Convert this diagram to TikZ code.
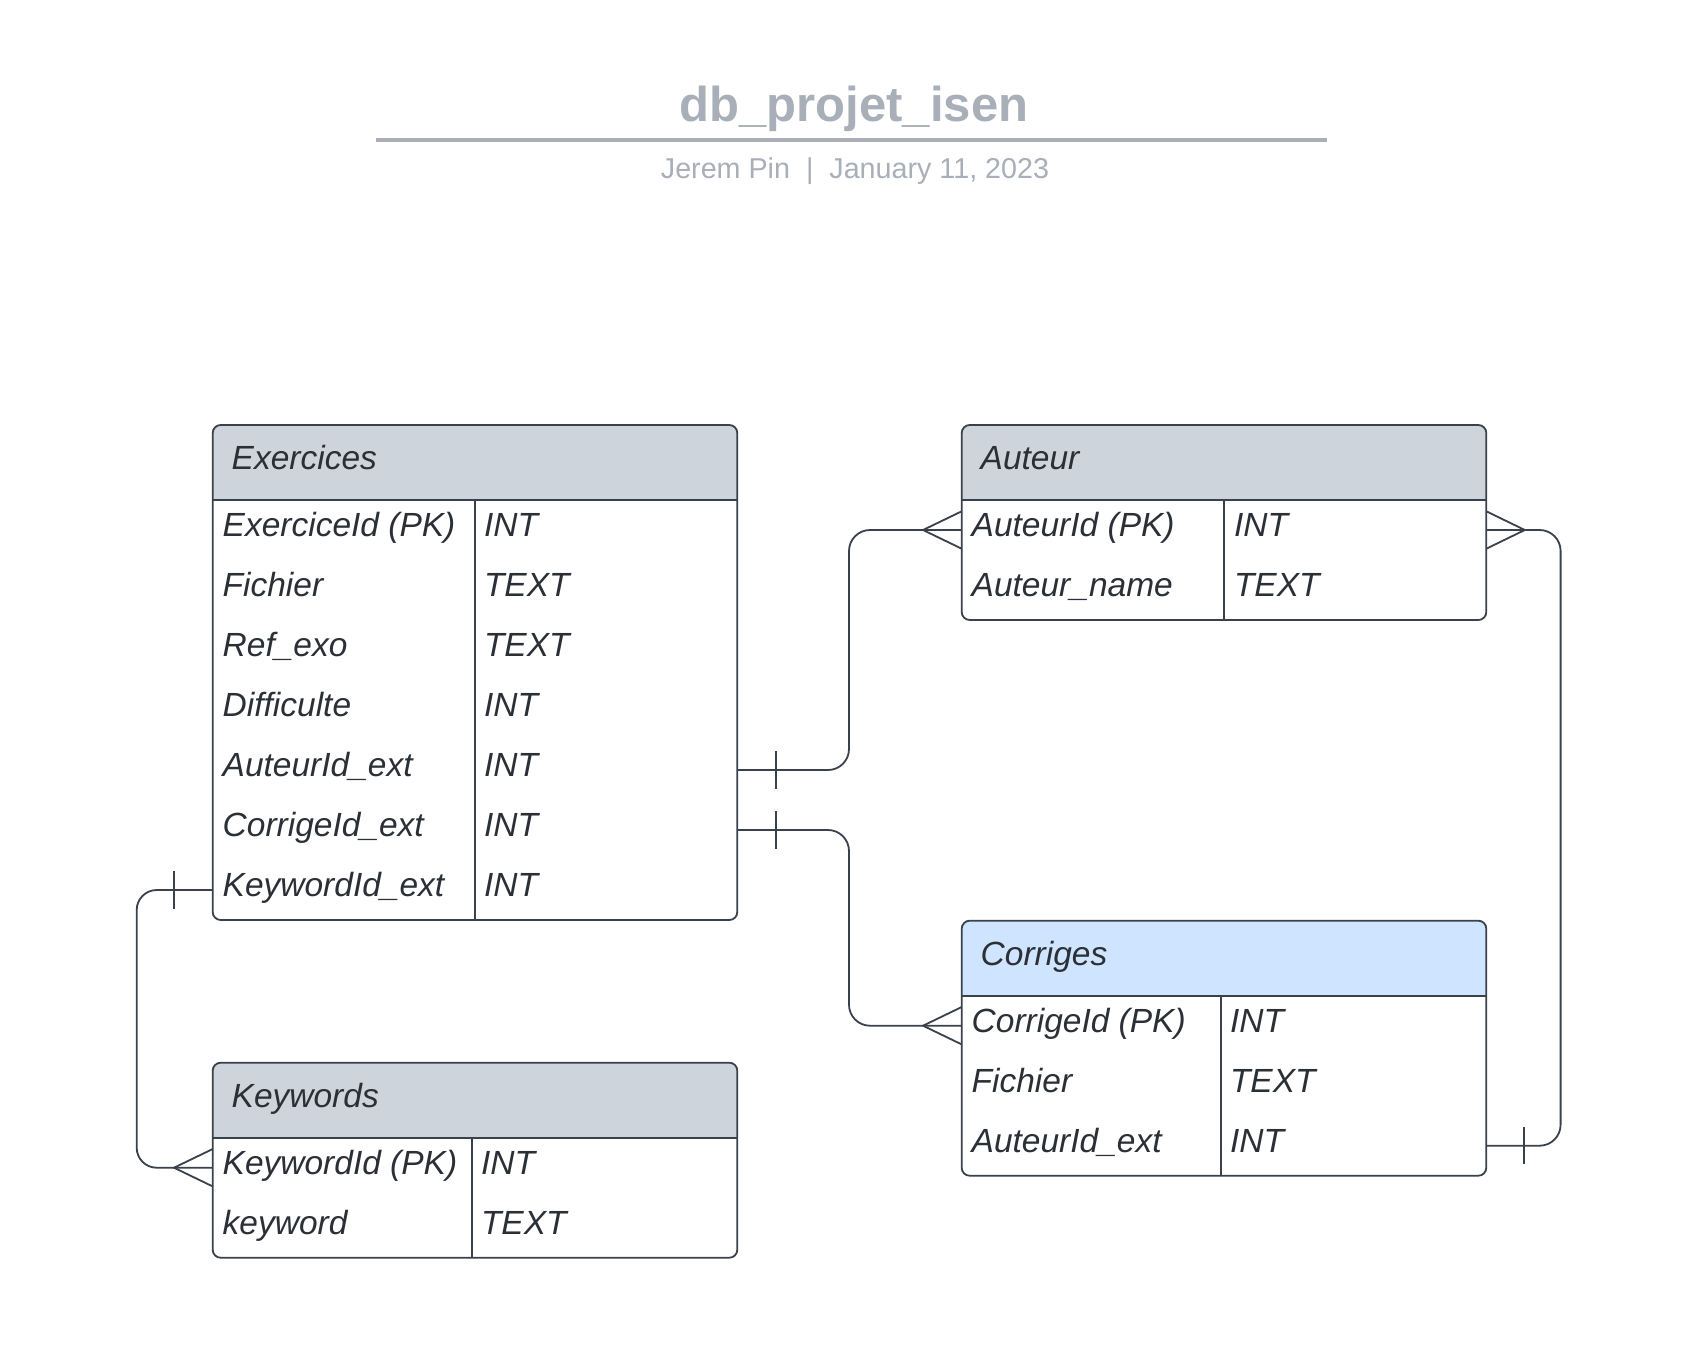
\documentclass[tikz,border=0pt]{standalone}
\usepackage{fontspec}
\setmainfont{Liberation Sans}
\definecolor{linecol}{HTML}{3A414A}
\definecolor{txtcol}{HTML}{2B2F36}
\definecolor{hdrgray}{HTML}{CED4DB}
\definecolor{hdrblue}{HTML}{CFE4FF}
\definecolor{titlegray}{HTML}{A9AFB8}
\newcommand{\dbtable}[7]{%
  \node[tbl, minimum height={75pt+#4*60pt}] (#1) at ({#2+262.3},{#3+37.5+#4*30}) {};
  \fill[white, rounded corners=8pt] (#1.south west) rectangle (#1.north east);
  \begin{scope}
    \clip[rounded corners=8pt] (#1.south west) rectangle (#1.north east);
    \fill[#6] (#1.north west) rectangle ([yshift=-75pt]#1.north east);
  \end{scope}
  \draw[sepline] ([yshift=-75pt]#1.north west) -- ([yshift=-75pt]#1.north east);
  \draw[sepline] ([xshift=#5pt,yshift=-75pt]#1.north west) -- ([xshift=#5pt]#1.south west);
  \draw[border] (#1.south west) rectangle (#1.north east);
  \node[fieldtxt] (#1-title) at ({#2+19},{#3+44.5}) {#7};
}
\newcommand{\dbrow}[6]{%
  \node[rowbox] (#1) at ({#2+262.3},#3) {};
  \node[fieldtxt] (#1-f) at ({#2+10},{#3+6.5}) {#5};
  \node[fieldtxt] (#1-t) at (#4,{#3+6.5}) {#6};
}
\begin{document}
\begin{tikzpicture}[x=1pt,y=-1pt,
  tbl/.style={rectangle, inner sep=0pt, outer sep=0pt, minimum width=524.6pt},
  rowbox/.style={rectangle, inner sep=0pt, outer sep=0pt, minimum height=60pt, minimum width=524.6pt},
  fieldtxt/.style={anchor=base west, inner sep=0pt, outer sep=0pt, text=txtcol, font=\fontsize{33.5}{40}\selectfont\itshape},
  conn/.style={draw=linecol, line width=1.8pt},
  border/.style={draw=linecol, line width=1.8pt, rounded corners=8pt},
  sepline/.style={draw=linecol, line width=1.8pt}]
\useasboundingbox (0,0) rectangle (1691,1371);
\fill[white] (0,0) rectangle (1691,1371);

% title block
\node[anchor=base, inner sep=0pt, text=titlegray, font=\fontsize{49}{58}\selectfont\bfseries] (title) at (854,121.7) {db\_projet\_isen};
\coordinate (ruleL) at (376,140);
\coordinate (ruleR) at (1327,140);
\draw[titlegray, line width=3.4pt] (ruleL) -- (ruleR);
\node[anchor=base, inner sep=0pt, text=titlegray, font=\fontsize{28.7}{34}\selectfont] (sub) at (855,178.3) {Jerem Pin\ \ |\ \ January 11, 2023};

% tables
\dbtable{ex}{212.7}{425}{7}{262.3}{hdrgray}{Exercices}
\dbrow{exId}{212.7}{530}{484}{ExerciceId (PK)}{INT}
\dbrow{exFi}{212.7}{590}{484}{Fichier}{TEXT}
\dbrow{exRef}{212.7}{650}{484}{Ref\_exo}{TEXT}
\dbrow{exDif}{212.7}{710}{484}{Difficulte}{INT}
\dbrow{exAut}{212.7}{770}{484}{AuteurId\_ext}{INT}
\dbrow{exCor}{212.7}{830}{484}{CorrigeId\_ext}{INT}
\dbrow{exKw}{212.7}{890}{484}{KeywordId\_ext}{INT}

\dbtable{au}{961.7}{425}{2}{262.3}{hdrgray}{Auteur}
\dbrow{auId}{961.7}{530}{1234}{AuteurId (PK)}{INT}
\dbrow{auNm}{961.7}{590}{1234}{Auteur\_name}{TEXT}

\dbtable{co}{961.7}{920.7}{3}{259.3}{hdrblue}{Corriges}
\dbrow{coId}{961.7}{1025.7}{1230}{CorrigeId (PK)}{INT}
\dbrow{coFi}{961.7}{1085.7}{1230}{Fichier}{TEXT}
\dbrow{coAut}{961.7}{1145.7}{1230}{AuteurId\_ext}{INT}

\dbtable{kw}{212.7}{1062.7}{2}{259}{hdrgray}{Keywords}
\dbrow{kwId}{212.7}{1167.7}{481}{KeywordId (PK)}{INT}
\dbrow{kwNm}{212.7}{1227.7}{481}{keyword}{TEXT}

% connectors
\draw[conn, rounded corners=21pt] (exAut.east) -- ++(111.7,0) |- (auId.west);
\draw[conn] ([xshift=38.7pt,yshift=18.7pt]exAut.east) -- ([xshift=38.7pt,yshift=-18.7pt]exAut.east);
\draw[conn] ([yshift=18.7pt]auId.west) -- ([xshift=-38.7pt]auId.west) -- ([yshift=-18.7pt]auId.west);

\draw[conn, rounded corners=21pt] (exCor.east) -- ++(111.7,0) |- (coId.west);
\draw[conn] ([xshift=38.7pt,yshift=18.7pt]exCor.east) -- ([xshift=38.7pt,yshift=-18.7pt]exCor.east);
\draw[conn] ([yshift=18.7pt]coId.west) -- ([xshift=-38.7pt]coId.west) -- ([yshift=-18.7pt]coId.west);

\draw[conn, rounded corners=20pt] (exKw.west) -- ++(-76,0) |- (kwId.west);
\draw[conn] ([xshift=-38.7pt,yshift=18.7pt]exKw.west) -- ([xshift=-38.7pt,yshift=-18.7pt]exKw.west);
\draw[conn] ([yshift=18.7pt]kwId.west) -- ([xshift=-38.7pt]kwId.west) -- ([yshift=-18.7pt]kwId.west);

\draw[conn, rounded corners=21pt] (coAut.east) -- ++(74.3,0) |- (auId.east);
\draw[conn] ([xshift=37.5pt,yshift=18.7pt]coAut.east) -- ([xshift=37.5pt,yshift=-18.7pt]coAut.east);
\draw[conn] ([yshift=18.7pt]auId.east) -- ([xshift=38.5pt]auId.east) -- ([yshift=-18.7pt]auId.east);
\end{tikzpicture}
\end{document}
